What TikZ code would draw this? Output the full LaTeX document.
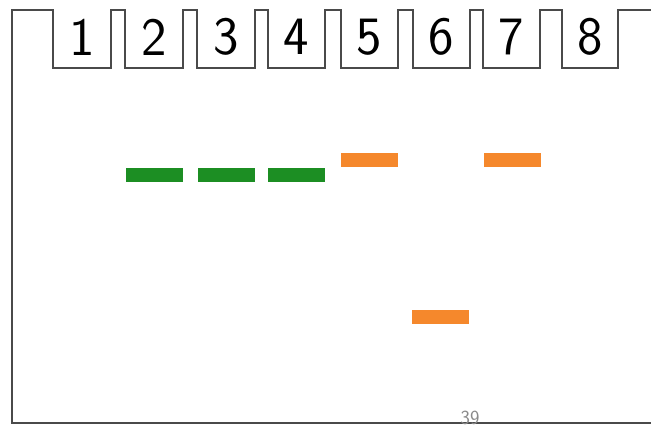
\documentclass[tikz,border=0pt]{standalone}
\usepackage{tikz}
\usetikzlibrary{positioning,calc}
\definecolor{GelLine}{HTML}{4A4A4A}
\definecolor{BandGreen}{HTML}{1C8E23}
\definecolor{BandOrange}{HTML}{F5882C}
\definecolor{PageMark}{HTML}{8A8A8A}
\tikzset{
  gelbox/.style={draw=GelLine,line width=2.2pt,line join=miter},
  band/.style={inner sep=0pt,minimum width=57pt,minimum height=14pt},
  laneno/.style={font=\fontsize{54}{54}\sffamily,inner sep=0pt}
}

\begin{document}
\begin{tikzpicture}[x=1pt,y=-1pt]
\useasboundingbox (0,0) rectangle (651,425);
\clip (0,0) rectangle (651,425);
\fill[white] (0,0) rectangle (651,425);
% gel outline with wells
\draw[gelbox] (651,10) -- (618,10) -- (618,68) -- (562,68) -- (562,10)
  -- (540,10) -- (540,68) -- (483,68) -- (483,10)
  -- (470,10) -- (470,68) -- (413,68) -- (413,10)
  -- (398,10) -- (398,68) -- (341,68) -- (341,10)
  -- (325,10) -- (325,68) -- (268,68) -- (268,10)
  -- (255,10) -- (255,68) -- (197,68) -- (197,10)
  -- (183,10) -- (183,68) -- (125,68) -- (125,10)
  -- (111,10) -- (111,68) -- (53,68) -- (53,10)
  -- (12,10) -- (12,423) -- (651,423);
% lane numbers
\foreach \n/\x in {1/82,2/154,3/226,4/296.5,5/369.5,6/441.5,7/511.5,8/590}
  \node[laneno] (lab\n) at (\x,37) {\n};
% bands
\node[band,fill=BandGreen] (b2) at (154,175) {};
\node[band,fill=BandGreen] (b3) at (226,175) {};
\node[band,fill=BandGreen] (b4) at (296.5,175) {};
\node[band,fill=BandOrange] (b5) at (369,160) {};
\node[band,fill=BandOrange] (b7) at (512.5,160) {};
\node[band,fill=BandOrange] (b6) at (440.5,316.5) {};
% page number, cut at the edge
\node[text=PageMark,font=\fontsize{20}{20}\sffamily,anchor=north,inner sep=0pt] (pg) at (470,411) {39};
\end{tikzpicture}
\end{document}
